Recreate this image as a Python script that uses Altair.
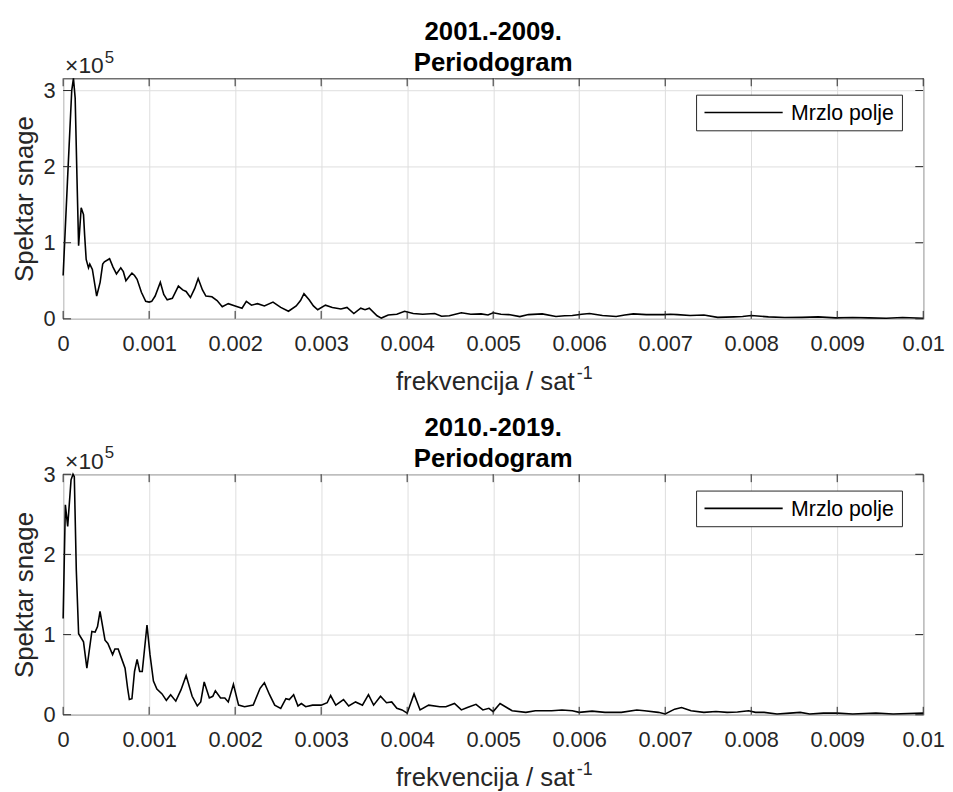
import altair as alt
import pandas as pd

# ---- data (power spectrum, in units of 10^5) ----
f_top = [0, 0.00005, 0.0001, 0.00012, 0.00014, 0.00016, 0.00018, 0.00021, 0.000237, 0.00025,
         0.000268, 0.000295, 0.00031, 0.00034, 0.00039, 0.00043, 0.00046, 0.00048, 0.00054, 0.00058,
         0.00062, 0.00067, 0.0007, 0.00073, 0.00077, 0.0008, 0.00083, 0.00086, 0.00091, 0.00096,
         0.001, 0.00103, 0.00107, 0.00113, 0.00117, 0.00121, 0.00127, 0.00134, 0.00139, 0.00143,
         0.00148, 0.00153, 0.00157, 0.00162, 0.00166, 0.00173, 0.00179, 0.00185, 0.00192, 0.002,
         0.00208, 0.00213, 0.00219, 0.00226, 0.00234, 0.00244, 0.00253, 0.00262, 0.00271, 0.00276,
         0.0028, 0.00286, 0.00291, 0.00296, 0.00305, 0.00313, 0.00323, 0.0033, 0.00338, 0.00346,
         0.00351, 0.00356, 0.00365, 0.0037, 0.00378, 0.00388, 0.00397, 0.00407, 0.00418, 0.00432,
         0.0044, 0.00449, 0.00463, 0.00474, 0.00486, 0.00494, 0.005, 0.00509, 0.00518, 0.00531,
         0.00541, 0.00557, 0.00573, 0.00583, 0.00592, 0.00603, 0.00612, 0.00627, 0.00643, 0.00653,
         0.00663, 0.00678, 0.00698, 0.00706, 0.00714, 0.00729, 0.00745, 0.00761, 0.0078, 0.0079,
         0.008, 0.0082, 0.00839, 0.00859, 0.00878, 0.00898, 0.00918, 0.00937, 0.00957, 0.00976,
         0.01]
v_top = [0.57, 1.8, 3.0, 3.16, 2.9, 1.9, 0.96, 1.46, 1.37, 1.1,
         0.78, 0.67, 0.72, 0.65, 0.30, 0.48, 0.72, 0.75, 0.79, 0.68,
         0.59, 0.67, 0.62, 0.50, 0.56, 0.60, 0.57, 0.52, 0.35, 0.23,
         0.22, 0.23, 0.30, 0.48, 0.32, 0.25, 0.27, 0.43, 0.38, 0.36,
         0.28, 0.40, 0.53, 0.38, 0.30, 0.29, 0.24, 0.16, 0.20, 0.17,
         0.14, 0.23, 0.18, 0.20, 0.17, 0.22, 0.15, 0.10, 0.17, 0.24,
         0.33, 0.25, 0.17, 0.12, 0.18, 0.15, 0.13, 0.15, 0.07, 0.14,
         0.12, 0.14, 0.04, 0.01, 0.05, 0.06, 0.10, 0.07, 0.06, 0.07,
         0.035, 0.04, 0.08, 0.06, 0.065, 0.05, 0.08, 0.06, 0.056, 0.03,
         0.056, 0.065, 0.03, 0.04, 0.045, 0.06, 0.07, 0.045, 0.03, 0.05,
         0.065, 0.056, 0.056, 0.06, 0.056, 0.045, 0.05, 0.02, 0.026, 0.03,
         0.045, 0.026, 0.017, 0.02, 0.026, 0.013, 0.017, 0.013, 0.009, 0.017,
         0.009]

f_bot = [0, 0.000026, 0.000053, 0.000092, 0.000115, 0.00013, 0.000153, 0.00018, 0.000237, 0.000276,
         0.000334, 0.000372, 0.0004, 0.000429, 0.000487, 0.00052, 0.000575, 0.000602, 0.00064, 0.00068,
         0.00072, 0.00075, 0.00077, 0.0008, 0.00083, 0.00086, 0.00089, 0.00092, 0.000975, 0.00101,
         0.00105, 0.00109, 0.00115, 0.0012, 0.00125, 0.00131, 0.00137, 0.00143, 0.0015, 0.00156,
         0.0016, 0.00164, 0.0017, 0.00174, 0.00177, 0.00183, 0.00188, 0.00192, 0.00198, 0.00204,
         0.00211, 0.00221, 0.00229, 0.00234, 0.0024, 0.00246, 0.00253, 0.00259, 0.00263, 0.00268,
         0.00273, 0.00277, 0.00282, 0.0029, 0.003, 0.00307, 0.00311, 0.00317, 0.00326, 0.00332,
         0.0034, 0.00348, 0.00355, 0.00361, 0.00369, 0.00376, 0.00382, 0.00388, 0.00394, 0.004,
         0.00408, 0.00415, 0.00425, 0.00438, 0.00445, 0.00455, 0.00463, 0.0047, 0.0048, 0.00488,
         0.00495, 0.005, 0.00508, 0.00522, 0.00538, 0.00549, 0.00568, 0.0058, 0.00592, 0.006,
         0.00615, 0.0063, 0.00649, 0.00667, 0.00676, 0.00692, 0.007, 0.00711, 0.00719, 0.0073,
         0.00745, 0.00759, 0.00772, 0.00784, 0.00797, 0.00805, 0.00815, 0.0083, 0.00845, 0.00857,
         0.00868, 0.00884, 0.009, 0.00918, 0.00945, 0.00965, 0.01]
v_bot = [1.2, 2.62, 2.35, 2.93, 3.0, 2.97, 1.81, 1.01, 0.91, 0.58,
         1.04, 1.03, 1.1, 1.29, 0.93, 0.89, 0.75, 0.82, 0.82, 0.70,
         0.58, 0.33, 0.19, 0.20, 0.54, 0.69, 0.54, 0.54, 1.12, 0.75,
         0.42, 0.32, 0.26, 0.18, 0.25, 0.17, 0.31, 0.49, 0.23, 0.11,
         0.16, 0.41, 0.21, 0.23, 0.30, 0.21, 0.21, 0.16, 0.38, 0.12,
         0.10, 0.12, 0.33, 0.40, 0.25, 0.12, 0.08, 0.20, 0.19, 0.25,
         0.11, 0.14, 0.10, 0.12, 0.12, 0.15, 0.24, 0.12, 0.19, 0.11,
         0.16, 0.12, 0.25, 0.12, 0.23, 0.15, 0.16, 0.08, 0.06, 0.02,
         0.26, 0.06, 0.12, 0.10, 0.10, 0.14, 0.06, 0.09, 0.13, 0.06,
         0.08, 0.04, 0.14, 0.05, 0.03, 0.05, 0.05, 0.06, 0.05, 0.03,
         0.045, 0.03, 0.03, 0.06, 0.05, 0.03, 0.01, 0.07, 0.09, 0.05,
         0.03, 0.04, 0.03, 0.035, 0.05, 0.03, 0.03, 0.01, 0.02, 0.03,
         0.01, 0.02, 0.02, 0.01, 0.02, 0.01, 0.02]

x_ticks = [0, 0.001, 0.002, 0.003, 0.004, 0.005, 0.006, 0.007, 0.008, 0.009, 0.01]
y_ticks = [0, 1, 2, 3]
series_name = "Mrzlo polje"
title_top = ["2001.-2009.", "Periodogram"]
title_bot = ["2010.-2019.", "Periodogram"]
exp_base = "×10"
exp_power = "5"
x_title = "frekvencija / sat"
x_title_exp = "-1"
y_title = "Spektar snage"

W, H = 869, 243
FONT = "Liberation Sans"
INK = "#262626"
GRID = "#dedede"
TICK = 8


def panel(fs, vs, ymax, title_lines, xtitle_y):
    df = pd.DataFrame({"f": fs, "v": vs})
    xenc = alt.X(
        "f:Q",
        scale=alt.Scale(domain=[0, 0.01], nice=False, zero=False),
        axis=alt.Axis(values=x_ticks, format="~g", title=x_title, labelFlush=False,
                      labelOverlap=False, grid=True, gridColor=GRID, tickSize=0, domain=False,
                      labelPadding=15, titleX=426, titleY=xtitle_y, titleBaseline="alphabetic",
                      titleAlign="center"),
    )
    yenc = alt.Y(
        "v:Q",
        scale=alt.Scale(domain=[0, ymax], nice=False, zero=False),
        axis=alt.Axis(values=y_ticks, format="d", title=y_title, grid=True, gridColor=GRID,
                      tickSize=0, domain=False, labelPadding=8, titleAngle=270, titleX=-31,
                      titleY=H / 2, titleBaseline="alphabetic", titleAlign="center"),
    )
    line = alt.Chart(df).mark_line(color="black", strokeWidth=1.6).encode(x=xenc, y=yenc)

    xt = pd.DataFrame({"f": x_ticks})
    yt = pd.DataFrame({"v": y_ticks})
    tk_top = alt.Chart(xt).mark_rule(color=INK).encode(x=xenc, y=alt.value(0), y2=alt.value(TICK))
    tk_bot = alt.Chart(xt).mark_rule(color=INK).encode(x=xenc, y=alt.value(H - TICK), y2=alt.value(H))
    tk_left = alt.Chart(yt).mark_rule(color=INK).encode(y=yenc, x=alt.value(0), x2=alt.value(TICK))
    tk_right = alt.Chart(yt).mark_rule(color=INK).encode(y=yenc, x=alt.value(W - TICK), x2=alt.value(W))

    t1 = alt.Chart(pd.DataFrame({"t": [title_lines[0]]})).mark_text(
        font=FONT, fontSize=26, fontWeight="bold", align="center", baseline="alphabetic", color="black"
    ).encode(x=alt.value(W / 2), y=alt.value(-39), text="t:N")
    t2 = alt.Chart(pd.DataFrame({"t": [title_lines[1]]})).mark_text(
        font=FONT, fontSize=26, fontWeight="bold", align="center", baseline="alphabetic", color="black"
    ).encode(x=alt.value(W / 2), y=alt.value(-7), text="t:N")

    e1 = alt.Chart(pd.DataFrame({"t": [exp_base]})).mark_text(
        font=FONT, fontSize=23, align="left", baseline="alphabetic", color=INK
    ).encode(x=alt.value(2), y=alt.value(-5.5), text="t:N")
    e2 = alt.Chart(pd.DataFrame({"t": [exp_power]})).mark_text(
        font=FONT, fontSize=17, align="left", baseline="alphabetic", color=INK
    ).encode(x=alt.value(42), y=alt.value(-16), text="t:N")

    xe = alt.Chart(pd.DataFrame({"t": [x_title_exp]})).mark_text(
        font=FONT, fontSize=18, align="left", baseline="alphabetic", color=INK
    ).encode(x=alt.value(519), y=alt.value(H + xtitle_y - 10), text="t:N")

    leg = pd.DataFrame({"s": [series_name]})
    box = alt.Chart(leg).mark_rect(fill="white", stroke=INK, strokeWidth=1).encode(
        x=alt.value(640), x2=alt.value(848), y=alt.value(17), y2=alt.value(53))
    sym = alt.Chart(leg).mark_rule(color="black", strokeWidth=1.6).encode(
        x=alt.value(648), x2=alt.value(727), y=alt.value(34.5))
    lab = alt.Chart(leg).mark_text(font=FONT, fontSize=21.5, align="left", baseline="alphabetic",
                                   color="black").encode(x=alt.value(735.5), y=alt.value(42.5), text="s:N")

    return alt.layer(line, tk_top, tk_bot, tk_left, tk_right, t1, t2, e1, e2, xe, box, sym, lab).properties(
        width=W, height=H)


top = panel(f_top, v_top, 3.16, title_top, 71)
bot = panel(f_bot, v_bot, 3.0, title_bot, 71)

chart = alt.vconcat(top, bot, spacing=19).properties(
    padding={"left": 2.7, "top": 6, "right": 0, "bottom": 0}
).configure_view(stroke=INK, strokeWidth=1).configure_axis(
    labelFont=FONT, titleFont=FONT, labelFontSize=22, titleFontSize=26, labelColor=INK,
    titleColor=INK, titleFontWeight="normal"
)

chart.save("out.html", embed_options={"renderer": "svg", "actions": False})
